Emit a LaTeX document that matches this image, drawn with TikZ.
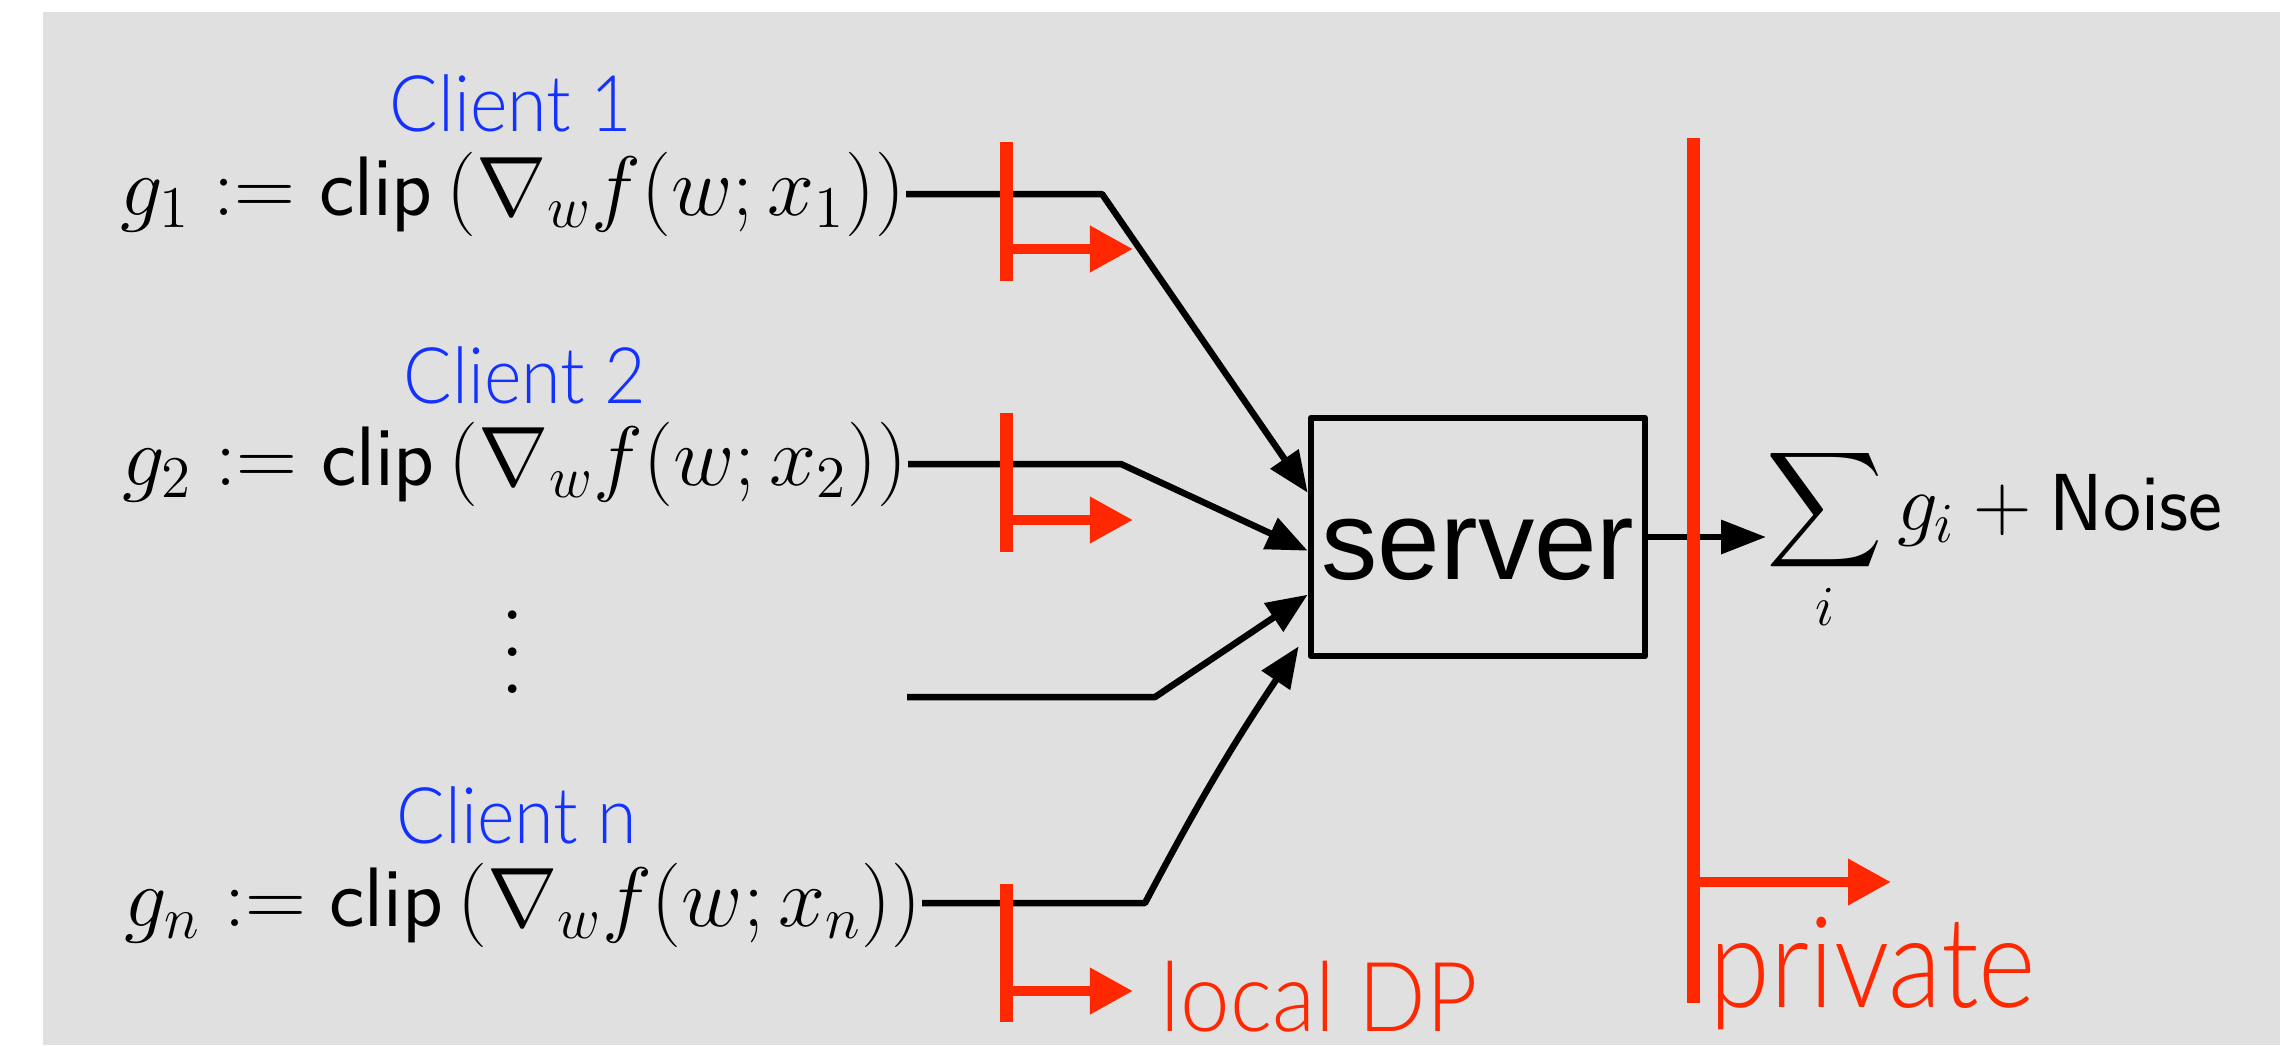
\RequirePackage{fix-cm}
\documentclass[tikz,border=0pt]{standalone}
\usepackage{fontspec}
\DeclareFontFamily{OMX}{cmex}{}
\DeclareFontShape{OMX}{cmex}{m}{n}{<->cmex10}{}
\usetikzlibrary{arrows.meta,calc}
\IfFontExistsTF{Lato Light}
  {\newfontfamily\clientfont{Lato Light}[FakeStretch=0.92]
   \newfontfamily\ldpfont{Lato Light}[FakeStretch=0.92]
   \newfontfamily\privfont{Lato Light}[FakeStretch=0.87]}
  {\newfontfamily\clientfont{Liberation Sans}[FakeStretch=0.85]
   \newfontfamily\ldpfont{Liberation Sans}[FakeStretch=0.85]
   \newfontfamily\privfont{Liberation Sans}[FakeStretch=0.8]}
\newfontfamily\helv{Liberation Sans}
\definecolor{bgc}{RGB}{224,224,224}
\definecolor{dpred}{RGB}{255,40,0}
\definecolor{cblue}{RGB}{20,50,255}
\tikzset{
  conn/.style={line width=1.85pt, line join=round, -{Triangle[length=4.1mm,width=3.3mm]}},
  sumconn/.style={line width=1.85pt, -{Triangle[length=4.5mm,width=3.3mm]}},
  redbar/.style={dpred, line width=3.7pt},
  redarr/.style={dpred, line width=2.85pt, -{Triangle[length=4.3mm,width=4.4mm]}},
  clientlbl/.style={text=cblue, inner sep=0pt, anchor=base, font=\clientfont\fontsize{22.2}{24}\selectfont},
  formula/.style={inner sep=0pt, anchor=base east, font=\fontsize{24}{28}\selectfont},
  dplbl/.style={text=dpred, inner sep=0pt, anchor=base west},
  serverbox/.style={draw, line width=1.85pt, line join=round, inner sep=0pt,
    minimum width=3.34cm, minimum height=2.38cm, text height=0.84cm, text depth=0cm,
    font=\helv\fontsize{32}{34}\selectfont},
}
\begin{document}
\begin{tikzpicture}[x=0.01cm,y=-0.01cm]
\useasboundingbox (0,0) rectangle (2280,1045);
\fill[bgc] (43,12) rectangle (2280,1045);

% client labels
\node[clientlbl] (c1) at (511,131) {Client 1};
\node[clientlbl] (c2) at (525,403) {Client 2};
\node[clientlbl] (cn) at (517,843) {Client n};

% formulas
\node[formula] (f1) at (906,215) {$g_1 := \mathsf{clip}\,(\nabla_w f(w;x_1))$};
\node[formula] (f2) at (908,485) {$g_2 := \mathsf{clip}\,(\nabla_w f(w;x_2))$};
\node[formula] (fn) at (922,926) {$g_n := \mathsf{clip}\,(\nabla_w f(w;x_n))$};

% vertical dots
\node[inner sep=0pt, font=\fontsize{30}{30}\selectfont] (dots) at (513,652)
  {\vbox{\baselineskip=10.6pt\lineskiplimit=-20pt\hbox{.}\hbox{.}\hbox{.}}};

% server
\node[serverbox] (box) at (1478,537) {server};

% sum
\node[inner sep=0pt, anchor=base west, font=\fontsize{23}{27}\selectfont] (sum) at (1766,530)
  {$\displaystyle\sum_i g_i + \mathsf{Noise}$};

% connectors
\draw[conn] ($(f1.base east)+(0,-21)$) -- (1102,194) -- ($(box.north west)+(0,78)$);
\draw[conn] ($(f2.base east)+(0,-21)$) -- (1121,464) -- ($(box.north west)+(0,136)$);
\coordinate (l3) at (907,697);
\draw[conn] (l3) -- (1155,697) -- ($(box.north west)+(0,180)$);
\draw[conn] ($(fn.base east)+(0,-23)$) -- (1145,903) to[bend left=3] ($(box.south west)+(-9,-13)$);
\draw[sumconn] (box.east) -- (box.east -| sum.west);

% local DP markers
\draw[redbar] (1006,142) -- (1006,281);
\draw[redarr] (1006,249) -- (1133,249);
\draw[redbar] (1006,413) -- (1006,552);
\draw[redarr] (1006,520) -- (1133,520);
\draw[redbar] (1006,884) -- (1006,1022);
\draw[redarr] (1006,991) -- (1133,991);

% private marker
\draw[redbar] (1693,138) -- (1693,1003);
\draw[redarr] (1693,882) -- (1891,882);

% red labels
\node[dplbl, font=\ldpfont\fontsize{27.5}{30}\selectfont] (ldp) at (1160,1031) {local DP};
\node[dplbl, font=\privfont\fontsize{36}{38}\selectfont] (priv) at (1709,1007) {private};
\end{tikzpicture}
\end{document}
